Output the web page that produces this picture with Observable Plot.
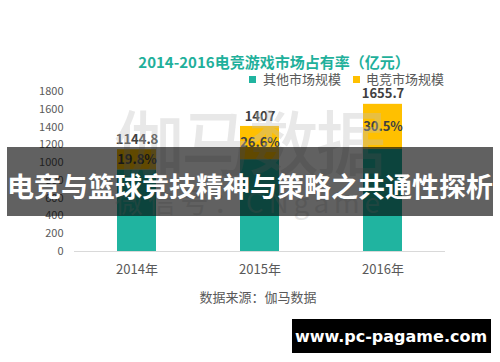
<!DOCTYPE html>
<html>
<head>
<meta charset="utf-8">
<script src="https://cdn.jsdelivr.net/npm/d3@7"></script>
<script src="https://cdn.jsdelivr.net/npm/@observablehq/plot@0.6"></script>
<style>
  html, body { margin: 0; padding: 0; background: #fff; }
  #wrap { position: relative; width: 500px; height: 362px; overflow: hidden; font-family: "Noto Sans CJK SC", sans-serif; }
  #wrap > * { position: absolute; }
  .title { left: 274px; top: 51px; transform: translateX(-50%); white-space: nowrap; font-size: 15px; font-weight: bold; color: #1fb09b; line-height: 22px; }
  .lg { top: 71px; font-size: 13px; color: #595959; line-height: 16px; white-space: nowrap; }
  .sw { top: 76px; width: 7px; height: 7px; }
  .src { left: 258px; top: 288px; transform: translateX(-50%); font-size: 13px; color: #595959; white-space: nowrap; line-height: 18px; }
</style>
</head>
<body>
<div id="wrap"></div>
<script>
const years = ["2014年", "2015年", "2016年"];
const totals = [1144.8, 1407, 1655.7];
const esportsShare = [19.8, 26.6, 30.5];
const seriesNames = ["其他市场规模", "电竞市场规模"];
const seriesColors = ["#20b4a0", "#ffc000"];
const yTicks = [0, 200, 400, 600, 800, 1000, 1200, 1400, 1600, 1800];
const titleText = "2014-2016电竞游戏市场占有率（亿元）";
const sourceText = "数据来源：伽马数据";
const bannerText = "电竞与篮球竞技精神与策略之共通性探析";
const watermark1 = "伽马数据";
const watermark2 = "微信号：CNgame";
const siteText = "www.pc-pagame.com";

const esports = totals.map((t, i) => t * esportsShare[i] / 100);
const other = totals.map((t, i) => t - esports[i]);

const rows = [];
years.forEach((y, i) => {
  rows.push({year: y, series: seriesNames[0], value: other[i]});
  rows.push({year: y, series: seriesNames[1], value: esports[i]});
});
const totalRows = years.map((y, i) => ({year: y, value: totals[i], label: String(totals[i])}));
const pctRows = years.map((y, i) => ({year: y, mid: other[i] + esports[i] / 2, label: esportsShare[i].toFixed(1) + "%"}));

const chart = Plot.plot({
  width: 500,
  height: 362,
  marginLeft: 74,
  marginRight: 55,
  marginTop: 91,
  marginBottom: 111,
  style: {fontFamily: "'Noto Sans CJK SC', sans-serif", background: "transparent"},
  x: {domain: years, paddingInner: 0.685, paddingOuter: 0.3425, label: null},
  y: {domain: [0, 1800], label: null},
  color: {domain: seriesNames, range: seriesColors},
  marks: [
    Plot.axisY({ticks: yTicks, tickFormat: d => String(d), tickSize: 0, tickPadding: 11, fontSize: 11, color: "#595959", label: null}),
    Plot.axisX({tickSize: 0, tickPadding: 13, fontSize: 13, color: "#595959", label: null}),
    Plot.barY(rows, {x: "year", y: "value", fill: "series"}),
    Plot.ruleY([0], {stroke: "#d9d9d9", strokeWidth: 1}),
    Plot.text(totalRows, {x: "year", y: "value", text: "label", dy: -10, fontSize: 13, fontWeight: "bold", fill: "#404040"}),
    Plot.text(pctRows, {x: "year", y: "mid", text: "label", fontSize: 13, fontWeight: "bold", fill: "#404040"})
  ]
});
chart.style.left = "0px";
chart.style.top = "0px";

const wrap = document.getElementById("wrap");
wrap.appendChild(chart);

// title
const t = document.createElement("div");
t.className = "title"; t.textContent = titleText; wrap.appendChild(t);

// legend
const lgPos = [[249, 263], [353, 366]];
seriesNames.forEach((n, i) => {
  const s = document.createElement("div");
  s.className = "sw"; s.style.left = lgPos[i][0] + "px"; s.style.background = seriesColors[i];
  wrap.appendChild(s);
  const l = document.createElement("div");
  l.className = "lg"; l.style.left = lgPos[i][1] + "px"; l.textContent = n;
  wrap.appendChild(l);
});

// source
const src = document.createElement("div");
src.className = "src"; src.textContent = sourceText; wrap.appendChild(src);

// overlay: watermark, banner, site box
const NS = "http://www.w3.org/2000/svg";
const ov = document.createElementNS(NS, "svg");
ov.setAttribute("width", 500); ov.setAttribute("height", 362);
ov.style.left = "0px"; ov.style.top = "0px";
function el(tag, attrs, text) {
  const e = document.createElementNS(NS, tag);
  for (const k in attrs) e.setAttribute(k, attrs[k]);
  if (text) e.textContent = text;
  ov.appendChild(e);
  return e;
}
el("text", {x: 114, y: 170, "font-size": 70, "font-family": "Noto Sans CJK SC", "font-weight": 500, fill: "rgba(190,190,190,0.35)", textLength: 272, lengthAdjust: "spacing"}, watermark1);
el("text", {x: 115, y: 213, "font-size": 28, "font-family": "Noto Sans CJK SC", fill: "rgba(190,190,190,0.35)", textLength: 265, lengthAdjust: "spacing"}, watermark2);
el("rect", {x: 7, y: 147, width: 486, height: 69, fill: "rgba(0,0,0,0.62)"});
el("text", {x: 250, y: 185, "font-size": 27, "font-family": "Noto Sans CJK SC", "font-weight": "bold", fill: "#fff", "text-anchor": "middle", "dominant-baseline": "central"}, bannerText);
el("rect", {x: 292, y: 319, width: 199, height: 34, fill: "#000"});
el("text", {x: 391, y: 336, "font-size": 16, "font-family": "DejaVu Sans", "font-weight": "bold", fill: "#fff", "text-anchor": "middle", "dominant-baseline": "central"}, siteText);
wrap.appendChild(ov);
</script>
</body>
</html>
